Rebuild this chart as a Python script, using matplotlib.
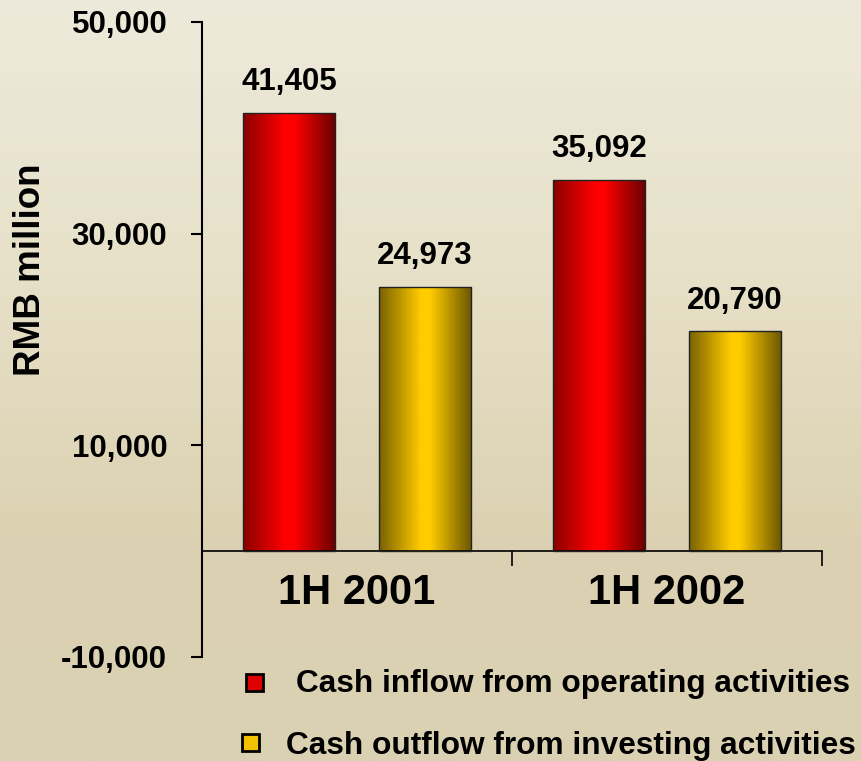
import numpy as np
from matplotlib import pyplot as plt
from matplotlib.colors import LinearSegmentedColormap
from matplotlib.patches import Rectangle

plt.rcParams['font.family'] = ['Liberation Sans', 'DejaVu Sans']
plt.rcParams['font.weight'] = 'bold'

periods = ['1H 2001', '1H 2002']
series_names = ['Cash inflow from operating activities',
                'Cash outflow from investing activities']
inflow = [41405, 35092]
outflow = [24973, 20790]
y_ticks = [-10000, 10000, 30000, 50000]

red_cmap = LinearSegmentedColormap.from_list(
    'red_bar', [(0, '#8a0000'), (0.45, '#ff0000'), (0.55, '#ff0000'), (1, '#6a0000')])
gold_cmap = LinearSegmentedColormap.from_list(
    'gold_bar', [(0, '#7a6200'), (0.45, '#ffcc00'), (0.55, '#ffcc00'), (1, '#6b5600')])
bg_cmap = LinearSegmentedColormap.from_list(
    'bg', [(0, '#eeeadb'), (0.35, '#e7e1c9'), (0.7, '#dcd2b2'), (1, '#dad1b3')])

fig = plt.figure(figsize=(8.62, 7.61), dpi=100)

# textured-paper look: plain vertical shading behind everything
bg = fig.add_axes([0, 0, 1, 1], zorder=-10)
bg.imshow(np.linspace(0, 1, 256).reshape(-1, 1), cmap=bg_cmap, aspect='auto')
bg.axis('off')

ax = fig.add_axes([0.2343, 0.1367, 0.7193, 0.8344])
ax.set_facecolor('none')

x = np.arange(len(periods))
width = 0.297
offset = 0.219
grad = np.linspace(0, 1, 200).reshape(1, -1)

for vals, shift, cmap in [(inflow, -offset, red_cmap), (outflow, offset, gold_cmap)]:
    bars = ax.bar(x + shift, vals, width, facecolor='none', edgecolor='#222222',
                  linewidth=1.0, zorder=3)
    for bar, v in zip(bars, vals):
        x0 = bar.get_x()
        im = ax.imshow(grad, cmap=cmap, aspect='auto', zorder=2,
                       extent=(x0, x0 + bar.get_width(), 0, bar.get_height()))
        im.set_clip_path(bar)
        ax.annotate(f'{v:,}', (bar.get_x() + bar.get_width() / 2, v),
                    xytext=(0, 22), textcoords='offset points',
                    ha='center', va='center', fontsize=22.5, fontweight='bold')

ax.set_xlim(-0.5, 1.5)
ax.set_ylim(-10000, 50000)

for side in ['top', 'right']:
    ax.spines[side].set_visible(False)
ax.spines['bottom'].set_position(('data', 0))
ax.spines['left'].set_linewidth(1.5)
ax.spines['bottom'].set_linewidth(1.2)

ax.set_yticks(y_ticks)
ax.set_yticklabels([f'{t:,}' for t in y_ticks], fontsize=22.5, fontweight='bold')
ax.tick_params(axis='y', length=8, width=1.5, pad=17)

ax.set_xticks(x)
ax.set_xticklabels(periods, fontsize=30, fontweight='bold')
ax.set_xticks([-0.5, 0.5, 1.5], minor=True)
ax.tick_params(axis='x', which='major', length=0, pad=16)
ax.tick_params(axis='x', which='minor', length=11, width=1.2)

fig.text(0.035, 0.645, 'RMB million', rotation=90, ha='center', va='center',
         fontsize=26.5, fontweight='bold')

# legend rows
legend_rows = [(series_names[0], '#e00000', 246, 674, 296, 684),
               (series_names[1], '#f2c200', 242, 734, 286, 746)]
W, H = 862, 761
for label, color, sx, sy, tx, ty in legend_rows:
    fig.patches.append(Rectangle((sx / W, 1 - (sy + 17) / H), 17 / W, 17 / H,
                                 transform=fig.transFigure, facecolor=color,
                                 edgecolor='black', linewidth=2))
    fig.text(tx / W, 1 - ty / H, label, ha='left', va='center',
             fontsize=22.8, fontweight='bold')

plt.savefig('out.png', dpi=100)
